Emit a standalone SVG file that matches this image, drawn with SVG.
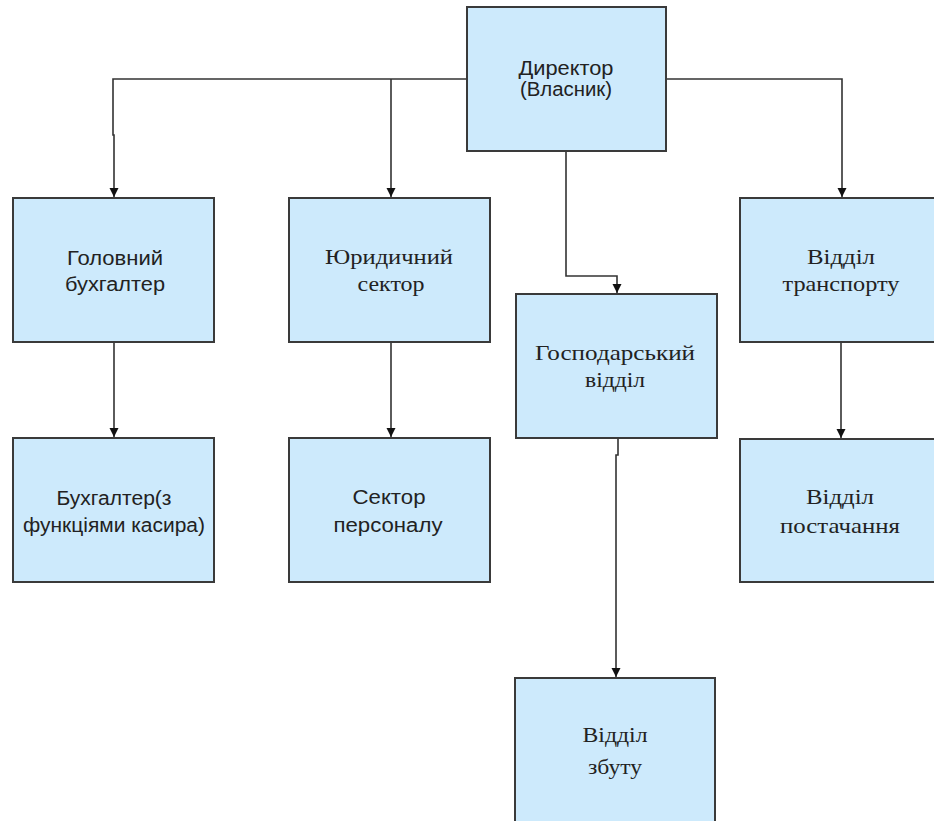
<svg xmlns="http://www.w3.org/2000/svg" width="934" height="821" viewBox="0 0 934 821">
<style>
.box{fill:#cdeafc;stroke:#3a3a3a;stroke-width:2}
.s{font-family:"Liberation Sans",Arial,sans-serif;font-size:20px;fill:#222;text-anchor:middle}
.r{font-family:"Liberation Serif","Times New Roman",serif;font-size:21px;fill:#222;text-anchor:middle}
.ln{fill:none;stroke:#333;stroke-width:1.6}
</style>
<defs>
<marker id="arr" markerUnits="userSpaceOnUse" markerWidth="12" markerHeight="12" viewBox="0 0 12 12" refX="10" refY="6" orient="auto">
<path d="M1,1.5 L10,6 L1,10.5 Z" fill="#111"/>
</marker>
</defs>
<rect width="934" height="821" fill="#fff"/>
<g id="connectors">
<polyline class="ln" points="467,79 113,79 113,135 114,135 114,197" marker-end="url(#arr)"/>
<polyline class="ln" points="391,79 391,197" marker-end="url(#arr)"/>
<polyline class="ln" points="666,79 842,79 842,197" marker-end="url(#arr)"/>
<polyline class="ln" points="566,151 566,276 617,276 617,293" marker-end="url(#arr)"/>
<polyline class="ln" points="114,342 114,437" marker-end="url(#arr)"/>
<polyline class="ln" points="391,342 391,437" marker-end="url(#arr)"/>
<polyline class="ln" points="841,342 841,438" marker-end="url(#arr)"/>
<polyline class="ln" points="618,438 618,455 616,455 616,677" marker-end="url(#arr)"/>
</g>
<g id="director">
<rect class="box" x="467" y="7" width="199" height="144"/>
<text class="s" x="566" y="75" textLength="95" lengthAdjust="spacingAndGlyphs">Директор</text>
<text class="s" x="566" y="96" textLength="92" lengthAdjust="spacingAndGlyphs">(Власник)</text>
</g>
<g id="chief-accountant">
<rect class="box" x="13" y="198" width="201" height="144"/>
<text class="s" x="115" y="265" textLength="96" lengthAdjust="spacingAndGlyphs">Головний</text>
<text class="s" x="115" y="291" textLength="100" lengthAdjust="spacingAndGlyphs">бухгалтер</text>
</g>
<g id="legal">
<rect class="box" x="289" y="198" width="201" height="144"/>
<text class="r" x="389" y="264" textLength="128" lengthAdjust="spacingAndGlyphs">Юридичний</text>
<text class="r" x="391" y="291" textLength="67" lengthAdjust="spacingAndGlyphs">сектор</text>
</g>
<g id="household">
<rect class="box" x="516" y="294" width="201" height="144"/>
<text class="r" x="615" y="360" textLength="160" lengthAdjust="spacingAndGlyphs">Господарський</text>
<text class="r" x="615" y="387" textLength="60" lengthAdjust="spacingAndGlyphs">відділ</text>
</g>
<g id="transport">
<rect class="box" x="740" y="198" width="210" height="144"/>
<text class="r" x="841" y="264" textLength="68" lengthAdjust="spacingAndGlyphs">Відділ</text>
<text class="r" x="841" y="291" textLength="117" lengthAdjust="spacingAndGlyphs">транспорту</text>
</g>
<g id="accountant">
<rect class="box" x="13" y="438" width="201" height="144"/>
<text class="s" x="114" y="505" textLength="115" lengthAdjust="spacingAndGlyphs">Бухгалтер(з</text>
<text class="s" x="114" y="532" textLength="182" lengthAdjust="spacingAndGlyphs">функціями касира)</text>
</g>
<g id="personnel">
<rect class="box" x="289" y="438" width="201" height="144"/>
<text class="s" x="389" y="504" textLength="73" lengthAdjust="spacingAndGlyphs">Сектор</text>
<text class="s" x="388" y="532" textLength="109" lengthAdjust="spacingAndGlyphs">персоналу</text>
</g>
<g id="supply">
<rect class="box" x="740" y="439" width="210" height="143"/>
<text class="r" x="840" y="504" textLength="68" lengthAdjust="spacingAndGlyphs">Відділ</text>
<text class="r" x="840" y="533" textLength="120" lengthAdjust="spacingAndGlyphs">постачання</text>
</g>
<g id="sales">
<rect class="box" x="515" y="678" width="200" height="160"/>
<text class="r" x="615" y="742" textLength="65" lengthAdjust="spacingAndGlyphs">Відділ</text>
<text class="r" x="615" y="774" textLength="54" lengthAdjust="spacingAndGlyphs">збуту</text>
</g>
</svg>
